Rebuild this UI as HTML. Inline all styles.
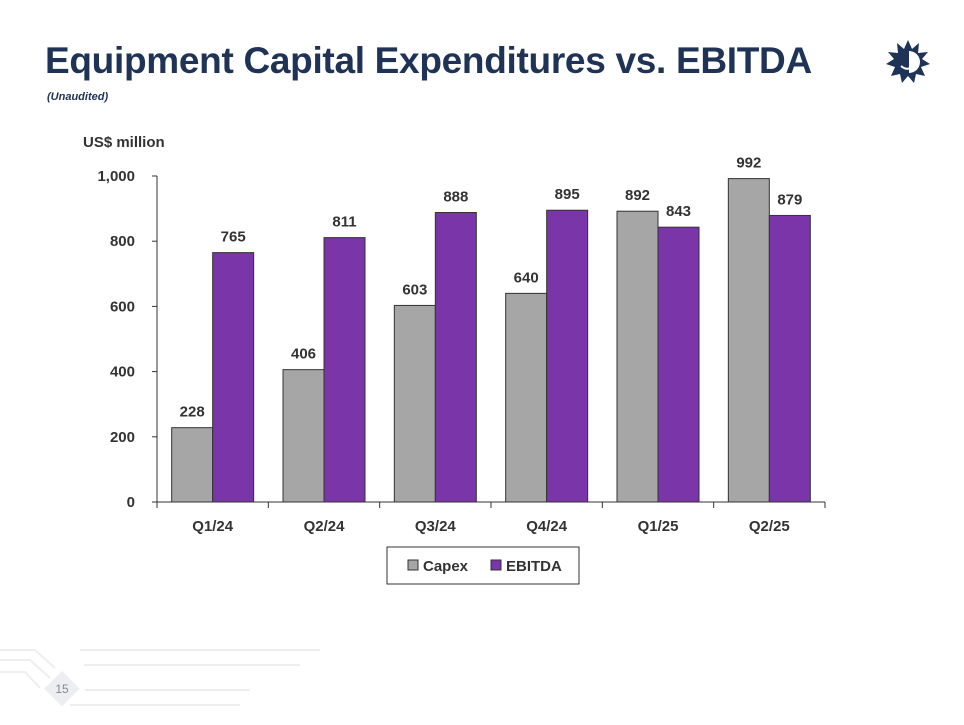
<!DOCTYPE html>
<html><head><meta charset="utf-8"><style>
body{margin:0;width:964px;height:725px;background:#fff;font-family:"Liberation Sans",sans-serif;overflow:hidden;position:relative}
#title{position:absolute;left:45px;top:40px;font-size:37px;font-weight:bold;color:#1e3356;letter-spacing:-0.3px;white-space:nowrap}
#sub{position:absolute;left:47px;top:91px;font-size:11px;font-style:italic;font-weight:bold;color:#1e3356}
svg text{font-family:"Liberation Sans",sans-serif;font-weight:bold;fill:#333}
</style></head><body>
<div id="title">Equipment Capital Expenditures vs. EBITDA</div>
<div id="sub">(Unaudited)</div>
<svg width="964" height="725" style="position:absolute;left:0;top:0" id="svg">
<g transform="translate(908,62)">
<polygon fill="#1e3356" points="0,-22 4,-13 11,-19 10,-9 20,-10 14,-3 22,2 13,5 17,14 8,12 6,21 0,14 -6,21 -8,12 -17,14 -13,5 -22,2 -14,-3 -20,-10 -10,-9 -11,-19 -4,-13"/>
<path d="M1,-11 A11,11 0 0 1 1,11 Z" fill="#fff"/>
<path d="M-7,4 Q0,10 6,3" stroke="#fff" stroke-width="2" fill="none"/>
</g>
<g stroke="#eee" stroke-width="2" fill="none">
<path d="M0,650 H35 L55,668"/><path d="M0,660 H30 L50,678"/><path d="M0,672 H25 L40,688"/>
<path d="M80,650 H320"/><path d="M84,665 H300"/><path d="M85,690 H250"/><path d="M70,705 H240"/>
<rect x="50" y="676" width="25" height="25" transform="rotate(45 62 688)" fill="#eceef2" stroke="none"/>
</g>
<text x="62" y="693" text-anchor="middle" font-size="12" style="font-weight:normal;fill:#888">15</text>
<g id="chart"></g>
</svg>
<script>
const categories=["Q1/24","Q2/24","Q3/24","Q4/24","Q1/25","Q2/25"];
const capex=[228,406,603,640,892,992];
const ebitda=[765,811,888,895,843,879];
const yTicks=[0,200,400,600,800,1000];
const yTickLabels=["0","200","400","600","800","1,000"];
const NS="http://www.w3.org/2000/svg";
const g=document.getElementById('chart');
const x0=157,x1=825,yb=502,yt=176,ymax=1000;
const bw=(x1-x0)/categories.length, barW=41;
const y=v=>yb-(v/ymax)*(yb-yt);
const cx=i=>x0+bw*(i+0.5);
function el(t,a,txt){const e=document.createElementNS(NS,t);for(const k in a)e.setAttribute(k,a[k]);if(txt!=null)e.textContent=txt;g.appendChild(e);return e;}
let e;
e=el('text',{x:83,y:147,'font-size':15});e.textContent="US$ million";


yTicks.forEach((t,i)=>{
 e=el('text',{x:135,y:y(t)+5,'text-anchor':'end','font-size':15},yTickLabels[i]);
 
 
 el('line',{x1:x0-5,x2:x0,y1:y(t),y2:y(t),stroke:'#333'});
});
e=el('line',{x1:x0,x2:x0,y1:yt,y2:yb,stroke:'#333'});


e=el('line',{x1:x0,x2:x1,y1:yb,y2:yb,stroke:'#333'});


for(let i=0;i<=categories.length;i++)el('line',{x1:x0+bw*i,x2:x0+bw*i,y1:yb,y2:yb+6,stroke:'#333'});
categories.forEach((c,i)=>{
 e=el('text',{x:cx(i),y:531,'text-anchor':'middle','font-size':15},c);
 
 
 const xa=cx(i)-barW;
 e=el('rect',{x:xa,y:y(capex[i]),width:barW,height:yb-y(capex[i]),fill:'#a6a6a6',stroke:'#333'});
 
 
 e=el('text',{x:xa+barW/2,y:y(capex[i])-11,'text-anchor':'middle','font-size':15},String(capex[i]));
 
 
 const xb=cx(i);
 e=el('rect',{x:xb,y:y(ebitda[i]),width:barW,height:yb-y(ebitda[i]),fill:'#7a35a8',stroke:'#333'});
 
 
 e=el('text',{x:xb+barW/2,y:y(ebitda[i])-11,'text-anchor':'middle','font-size':15},String(ebitda[i]));
 
 
});
e=el('rect',{x:387,y:547,width:192,height:37,fill:'#fff',stroke:'#333'});


el('rect',{x:408,y:560,width:10,height:10,fill:'#a6a6a6',stroke:'#333'});
e=el('text',{x:423,y:571,'font-size':15},'Capex');


el('rect',{x:491,y:560,width:10,height:10,fill:'#7a35a8',stroke:'#333'});
e=el('text',{x:506,y:571,'font-size':15},'EBITDA');


</script>
</body></html>
